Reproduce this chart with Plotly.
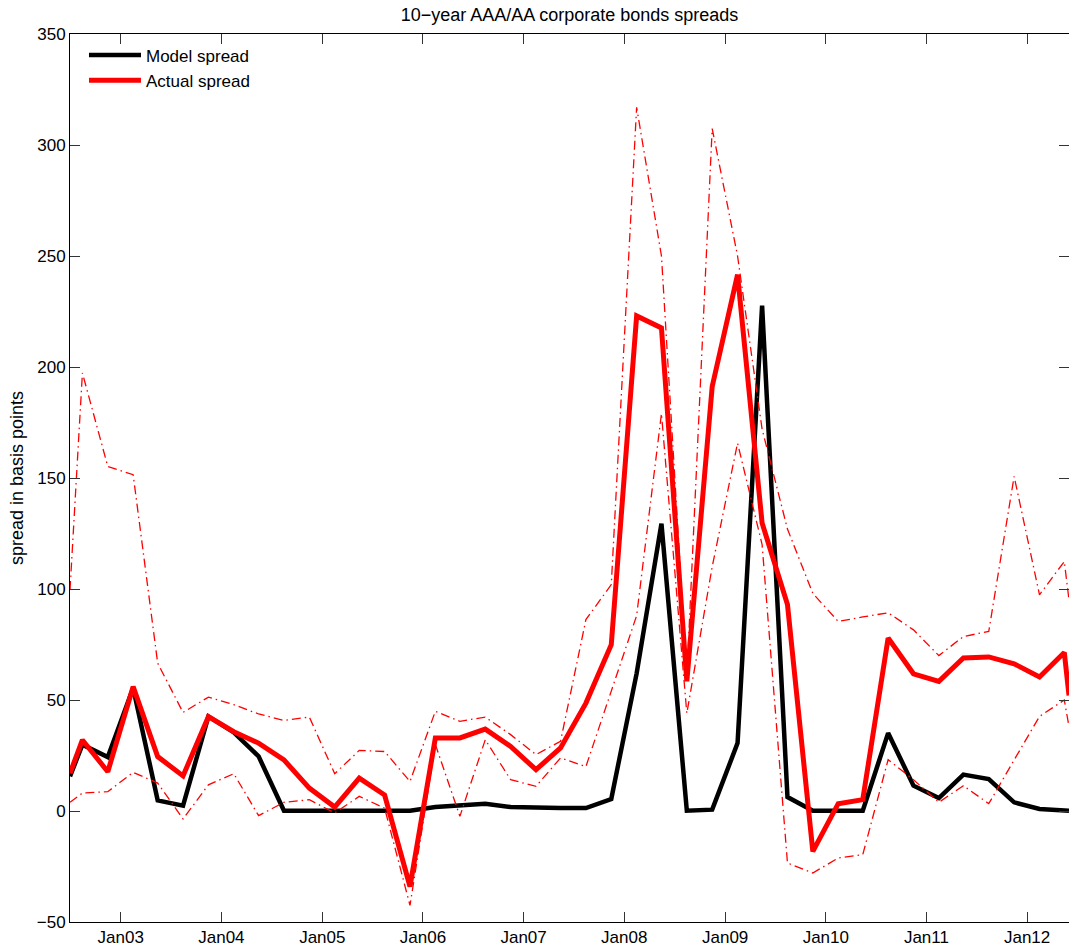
import pandas as pd
import plotly.graph_objects as go

# ---- data ----
quarter_dates = [d.strftime("%Y-%m-%d") for d in
                 pd.date_range("2002-08-15", periods=40, freq=pd.DateOffset(months=3))]
dates = ["2002-07-01"] + quarter_dates + ["2012-06-01"]

model_spread = [15.6, 29.9, 24.3, 55.4, 4.8, 2.4, 42.6, 35.4, 24.6, 0.1,
                0.1, 0.1, 0.1, 0.1, 0.1, 1.8, 2.5, 3.3, 1.8, 1.3,
                1.3, 1.3, 5.4, 62.0, 129.4, 0.1, 0.6, 30.6, 227.6, 6.3,
                0.1, 0.1, 0.1, 35.1, 11.4, 5.8, 16.4, 14.4, 3.9, 0.9,
                0.3, 0.1]

actual_spread = [17.0, 32.0, 17.7, 56.0, 24.5, 15.8, 42.5, 35.7, 30.6, 23.0,
                 10.3, 1.8, 14.8, 7.2, -34.0, 32.9, 32.9, 36.9, 29.1, 18.6,
                 28.4, 48.6, 74.9, 223.0, 217.6, 58.4, 191.2, 241.6, 129.7, 93.0,
                 -18.2, 3.3, 5.1, 77.9, 61.8, 58.4, 68.9, 69.4, 66.3, 60.4,
                 71.4, 52.0]

upper_band = [99.6, 197.3, 155.2, 151.5, 66.6, 44.4, 51.3, 47.9, 43.7, 40.8,
              42.3, 16.8, 27.3, 26.8, 13.3, 44.9, 40.4, 42.3, 34.4, 25.4,
              31.4, 86.2, 102.0, 317.0, 250.0, 60.0, 307.4, 250.0, 172.0, 127.0,
              98.0, 85.4, 87.4, 89.3, 81.6, 70.0, 78.6, 80.9, 150.7, 97.4,
              112.4, 95.0]

lower_band = [3.9, 8.1, 8.7, 17.4, 12.6, -3.6, 11.8, 16.8, -2.1, 3.9,
              5.1, -0.9, 6.6, 1.3, -42.5, 30.0, -2.4, 32.1, 14.1, 11.1,
              23.9, 20.0, 54.0, 88.0, 179.0, 44.0, 110.0, 165.7, 120.0, -23.4,
              -27.9, -21.2, -19.7, 23.1, 14.1, 3.9, 11.4, 3.3, 23.0, 42.6,
              50.0, 38.0]

y_ticks = [-50, 0, 50, 100, 150, 200, 250, 300, 350]

FONT = "Liberation Sans, Arial, Helvetica, sans-serif"
DASHDOT = "9px,4px,1.5px,4px"

fig = go.Figure()
fig.add_trace(go.Scatter(x=dates, y=model_spread, mode="lines", name="Model spread",
                         line=dict(color="black", width=4.5)))
fig.add_trace(go.Scatter(x=dates, y=actual_spread, mode="lines", name="Actual spread",
                         line=dict(color="#ff0000", width=5)))
fig.add_trace(go.Scatter(x=dates, y=upper_band, mode="lines", showlegend=False,
                         line=dict(color="#ff0000", width=1.3, dash=DASHDOT)))
fig.add_trace(go.Scatter(x=dates, y=lower_band, mode="lines", showlegend=False,
                         line=dict(color="#ff0000", width=1.3, dash=DASHDOT)))
# invisible trace to host right-side tick marks
fig.add_trace(go.Scatter(x=[dates[0]], y=[None], yaxis="y2", showlegend=False,
                         hoverinfo="skip", mode="lines"))

fig.update_layout(
    width=1069, height=948,
    margin=dict(l=70, r=0, t=34, b=26),
    plot_bgcolor="white", paper_bgcolor="white",
    font=dict(family=FONT, size=17, color="black"),
    title=dict(text="10\u2212year AAA/AA corporate bonds spreads",
               x=0.5, xref="paper", xanchor="center",
               y=1 - 15 / 948, yref="container", yanchor="middle",
               font=dict(family=FONT, size=18, color="black")),
    xaxis=dict(type="date", range=[dates[0], dates[-1]], tickformat="%b%y",
               tick0="2003-01-01", dtick="M12",
               ticks="inside", ticklen=10, tickcolor="#333333", tickwidth=1,
               showline=True, linecolor="black", linewidth=1, mirror="ticks",
               showgrid=False, zeroline=False,
               tickfont=dict(family=FONT, size=17)),
    yaxis=dict(range=[-50, 350], tickvals=y_ticks,
               ticks="inside", ticklen=10, tickcolor="#333333", tickwidth=1,
               showline=True, linecolor="black", linewidth=1, mirror=False,
               showgrid=False, zeroline=False,
               tickfont=dict(family=FONT, size=17),
               title=dict(text="spread in basis points", standoff=8,
                          font=dict(family=FONT, size=18))),
    yaxis2=dict(overlaying="y", side="right", matches="y", tickvals=y_ticks,
                ticks="inside", ticklen=10, tickcolor="#333333", tickwidth=1,
                showticklabels=False, showline=False, showgrid=False, zeroline=False),
    legend=dict(x=0.014, y=0.996, xanchor="left", yanchor="top",
                bgcolor="rgba(0,0,0,0)", borderwidth=0,
                font=dict(family=FONT, size=17), itemwidth=52,
                tracegroupgap=0),
    showlegend=True,
)

fig.write_html("out.html")
